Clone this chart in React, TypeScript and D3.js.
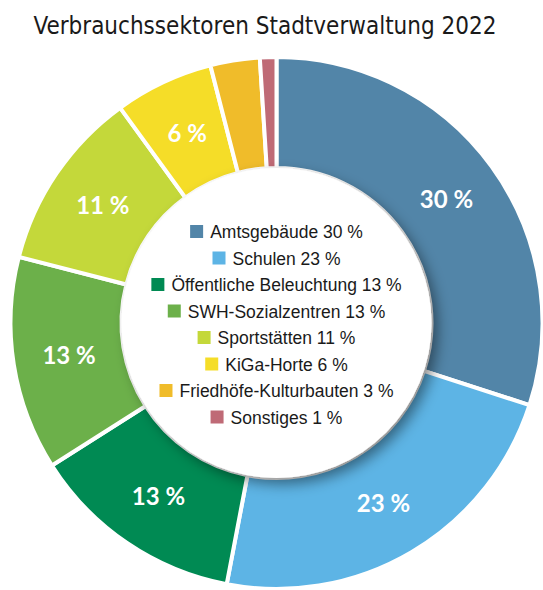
import React, { useEffect, useRef } from "react";
import * as d3 from "d3";

const sectors = [
  "Amtsgebäude",
  "Schulen",
  "Öffentliche Beleuchtung",
  "SWH-Sozialzentren",
  "Sportstätten",
  "KiGa-Horte",
  "Friedhöfe-Kulturbauten",
  "Sonstiges",
];
const shares = [30, 23, 13, 13, 11, 6, 3, 1];
const colors = [
  "#5285a8",
  "#5db4e5",
  "#008a53",
  "#6cb04a",
  "#c4d83a",
  "#f5dd28",
  "#f0bc2a",
  "#bf6a76",
];
// slices big enough to carry a label inside the ring
const labelMin = 5;

export default function App() {
  const svgRef = useRef<SVGSVGElement>(null);

  useEffect(() => {
    const width = 543;
    const height = 590;
    const cx = 276.5;
    const cy = 323;
    const outer = 266;
    const inner = 155;

    const svg = d3.select(svgRef.current).attr("width", width).attr("height", height);
    svg.selectAll("*").remove();

    const defs = svg.append("defs");
    const filter = defs
      .append("filter")
      .attr("id", "holeShadow")
      .attr("x", "-20%")
      .attr("y", "-20%")
      .attr("width", "140%")
      .attr("height", "140%");
    filter
      .append("feDropShadow")
      .attr("dx", 6)
      .attr("dy", 6)
      .attr("stdDeviation", 7)
      .attr("flood-color", "#000")
      .attr("flood-opacity", 0.45);

    svg
      .append("text")
      .attr("x", 265)
      .attr("y", 34)
      .attr("text-anchor", "middle")
      .attr("font-family", "'Liberation Sans Narrow', 'DejaVu Sans Condensed', 'Liberation Sans', sans-serif")
      .attr("font-size", 25)
      .attr("fill", "#1a1a1a")
      .attr("textLength", 463)
      .attr("lengthAdjust", "spacingAndGlyphs")
      .text("Verbrauchssektoren Stadtverwaltung 2022");

    const data = sectors.map((name, i) => ({ name, value: shares[i], color: colors[i] }));

    const pie = d3
      .pie<{ name: string; value: number; color: string }>()
      .sort(null)
      .value((d) => d.value);
    const arcs = pie(data);

    const arc = d3
      .arc<d3.PieArcDatum<{ name: string; value: number; color: string }>>()
      .innerRadius(inner)
      .outerRadius(outer);
    const labelArc = d3
      .arc<d3.PieArcDatum<{ name: string; value: number; color: string }>>()
      .innerRadius(210)
      .outerRadius(210);

    const g = svg.append("g").attr("transform", `translate(${cx},${cy})`);

    g.selectAll("path.slice")
      .data(arcs)
      .enter()
      .append("path")
      .attr("class", "slice")
      .attr("d", arc)
      .attr("fill", (d) => d.data.color)
      .attr("stroke", "#fff")
      .attr("stroke-width", 4)
      .attr("stroke-linejoin", "miter");

    // white hole with a soft shadow falling on the ring
    g.append("circle")
      .attr("r", inner)
      .attr("fill", "#fff")
      .attr("filter", "url(#holeShadow)");

    g.selectAll("text.pct")
      .data(arcs.filter((d) => d.data.value >= labelMin))
      .enter()
      .append("text")
      .attr("class", "pct")
      .attr("transform", (d) => `translate(${labelArc.centroid(d)})`)
      .attr("text-anchor", "middle")
      .attr("dy", "0.36em")
      .attr("font-family", "Lato, 'Open Sans', sans-serif")
      .attr("font-weight", 700)
      .attr("font-size", 24)
      .attr("fill", "#fff")
      .text((d) => `${d.data.value} %`);

    // legend in the middle, each row centred
    const rowGap = 26.5;
    const firstBase = 238 - cy;
    const sq = 13;
    const gap = 7;
    const legend = g.append("g");
    data.forEach((d, i) => {
      const row = legend.append("g");
      const t = row
        .append("text")
        .attr("y", firstBase + i * rowGap)
        .attr("font-family", "'Liberation Sans', Arial, sans-serif")
        .attr("font-size", 17.5)
        .attr("fill", "#1a1a1a")
        .text(`${d.name} ${d.value} %`);
      const tw = (t.node() as SVGTextElement).getComputedTextLength();
      const total = sq + gap + tw;
      const x0 = -total / 2;
      t.attr("x", x0 + sq + gap);
      row
        .append("rect")
        .attr("x", x0)
        .attr("y", firstBase + i * rowGap - 13)
        .attr("width", sq)
        .attr("height", sq)
        .attr("fill", d.color);
    });
  }, []);

  return (
    <div style={{ position: "absolute", left: 0, top: 0 }}>
      <svg ref={svgRef} style={{ display: "block" }}></svg>
    </div>
  );
}
